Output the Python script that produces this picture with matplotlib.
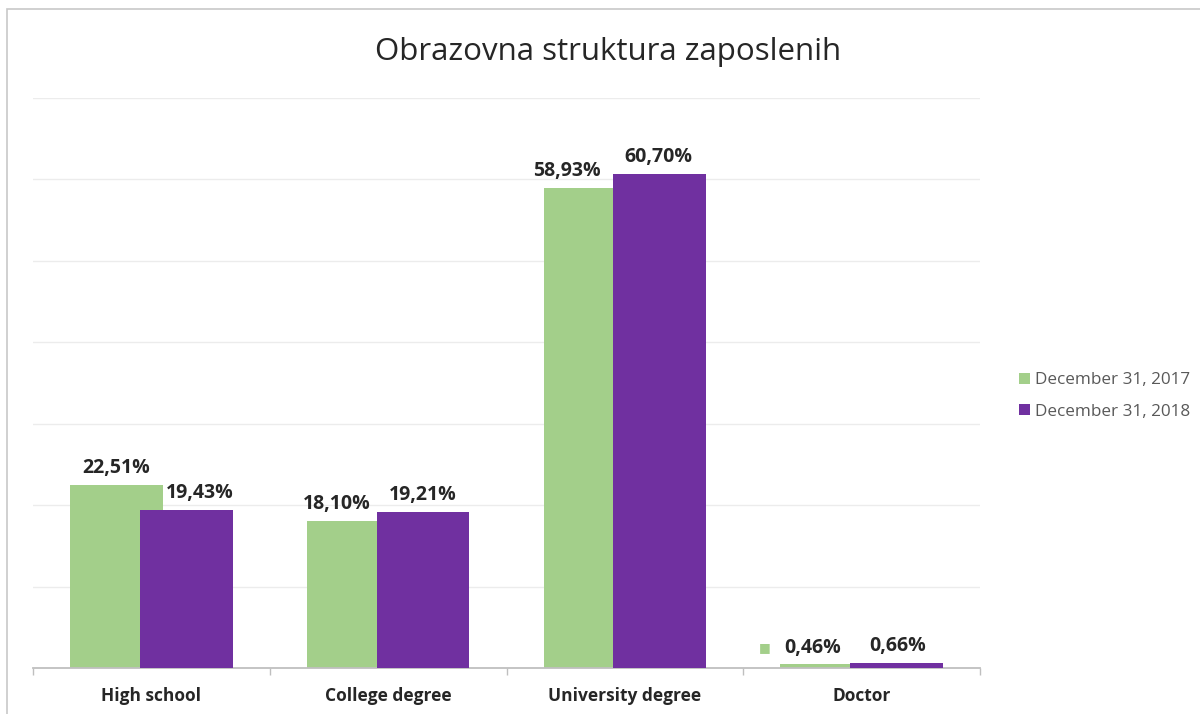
import matplotlib
matplotlib.use("Agg")
import matplotlib.pyplot as plt
from matplotlib.patches import Rectangle
import numpy as np

categories = ["High school", "College degree", "University degree", "Doctor"]
series_names = ["December 31, 2017", "December 31, 2018"]
values_2017 = [22.51, 18.10, 58.93, 0.46]
values_2018 = [19.43, 19.21, 60.70, 0.66]

green = "#a3cf8a"
purple = "#7030a0"

plt.rcParams['font.family'] = ['Open Sans', 'DejaVu Sans']

fig = plt.figure(figsize=(12, 7.14), dpi=100)
fig.patches.append(Rectangle((7/1200, -0.01), 1.2, (714-9)/714 + 0.01, transform=fig.transFigure,
                             fill=False, edgecolor="#c8c8c8", linewidth=1.2, zorder=0))
ax = fig.add_axes([33/1200, (714-668)/714, (980-33)/1200, (668-98)/714])

x = np.arange(len(categories))
w = 0.392
off = 0.147
b1 = ax.bar(x - off, values_2017, w, color=green, label=series_names[0], zorder=2)
b2 = ax.bar(x + off, values_2018, w, color=purple, label=series_names[1], zorder=3)

ax.set_xlim(-0.5, len(categories) - 0.5)
ax.set_ylim(0, 70)
ax.set_yticks(np.arange(10, 71, 10))
ax.yaxis.grid(True, color="#ececec", linewidth=1, zorder=0)
ax.tick_params(axis='y', length=0, labelleft=False)
for s in ["top", "right", "left"]:
    ax.spines[s].set_visible(False)
ax.spines["bottom"].set_color("#bfbfbf")
ax.spines["bottom"].set_linewidth(1.3)
ax.set_xticks(np.arange(-0.5, len(categories), 1.0))
ax.set_xticklabels([])
ax.tick_params(axis='x', length=5, color="#bfbfbf", width=1)
for i, c in enumerate(categories):
    ax.annotate(c, (i, 0), xytext=(0, -20), textcoords="offset points",
                ha="center", va="center", fontsize=12.5, fontweight="bold", color="#262626")

def fmt(v):
    return f"{v:.2f}".replace(".", ",") + "%"

shift1 = [0, -12, -17, -10]
shift2 = [10, 0, -1, 1]
for i in range(len(categories)):
    ax.annotate(fmt(values_2017[i]), (x[i] - off, values_2017[i]), xytext=(shift1[i], 12),
                textcoords="offset points", ha="center", va="center",
                fontsize=14, fontweight="bold", color="#262626")
    ax.annotate(fmt(values_2018[i]), (x[i] + off, values_2018[i]), xytext=(shift2[i], 12),
                textcoords="offset points", ha="center", va="center",
                fontsize=14, fontweight="bold", color="#262626")
# legend key artifact beside the small Doctor label
ax.annotate("■", (x[3] - off, values_2017[3]), xytext=(-45, 12), textcoords="offset points",
            ha="center", va="center", fontsize=9, color=green, family="DejaVu Sans")

fig.text(608/1200, 1 - 52/714, "Obrazovna struktura zaposlenih", ha="center", va="center",
         fontsize=22.5, color="#262626")

leg = fig.legend(handles=[b1, b2], labels=series_names, loc="center left",
                 bbox_to_anchor=(1004/1200, 1 - 396/714), frameon=False, fontsize=12.3,
                 handlelength=0.6, handleheight=0.6, handletextpad=0.3, labelspacing=0.9,
                 labelcolor="#595959")

fig.savefig("out.png", dpi=100, facecolor="white")
